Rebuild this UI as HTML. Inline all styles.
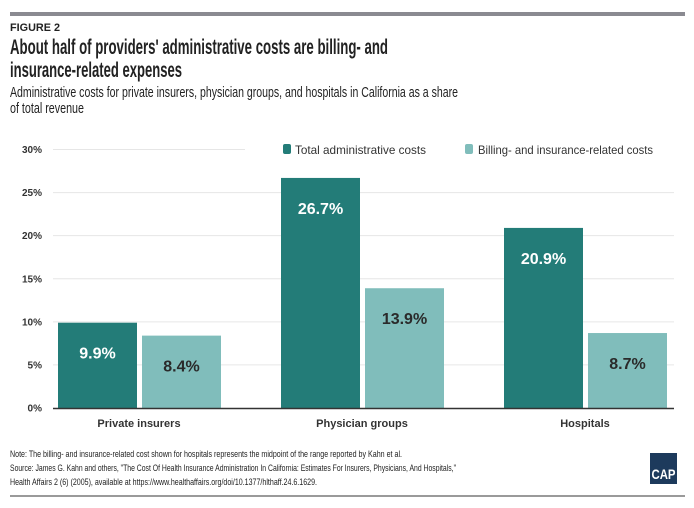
<!DOCTYPE html>
<html><head><meta charset="utf-8"><style>
body{margin:0;background:#fff}
svg{display:block;font-family:"Liberation Sans",sans-serif}
</style></head><body>
<svg width="694" height="508" viewBox="0 0 694 508">
<rect x="10" y="12" width="675" height="4" fill="#8a8a91"/>
<text x="10" y="31" font-size="11" font-weight="bold" fill="#222" textLength="50" lengthAdjust="spacingAndGlyphs">FIGURE 2</text>
<text x="10" y="54" font-size="21" font-weight="bold" fill="#222" textLength="378" lengthAdjust="spacingAndGlyphs">About half of providers' administrative costs are billing- and</text>
<text x="10" y="77" font-size="21" font-weight="bold" fill="#222" textLength="172" lengthAdjust="spacingAndGlyphs">insurance-related expenses</text>
<text x="10" y="97" font-size="15" fill="#222" textLength="448" lengthAdjust="spacingAndGlyphs">Administrative costs for private insurers, physician groups, and hospitals in California as a share</text>
<text x="10" y="113" font-size="15" fill="#222" textLength="74" lengthAdjust="spacingAndGlyphs">of total revenue</text>
<g id="grid"></g>
<g id="bars"></g>
<line x1="53" x2="674" y1="408.5" y2="408.5" stroke="#333" stroke-width="1.5"/>
<g>
<rect x="283" y="144" width="8" height="10" rx="2" fill="#237c78"/>
<text x="295" y="154" font-size="12" fill="#333" textLength="131" lengthAdjust="spacingAndGlyphs">Total administrative costs</text>
<rect x="465" y="144" width="8" height="10" rx="2" fill="#80bdbb"/>
<text x="478" y="154" font-size="12" fill="#333" textLength="175" lengthAdjust="spacingAndGlyphs">Billing- and insurance-related costs</text>
</g>
<g font-size="9.5" fill="#222">
<text x="10" y="457" textLength="392" lengthAdjust="spacingAndGlyphs">Note: The billing- and insurance-related cost shown for hospitals represents the midpoint of the range reported by Kahn et al.</text>
<text x="10" y="471" textLength="446" lengthAdjust="spacingAndGlyphs">Source: James G. Kahn and others, "The Cost Of Health Insurance Administration In California: Estimates For Insurers, Physicians, And Hospitals,"</text>
<text x="10" y="485" textLength="307" lengthAdjust="spacingAndGlyphs">Health Affairs 2 (6) (2005), available at https://www.healthaffairs.org/doi/10.1377/hlthaff.24.6.1629.</text>
</g>
<g>
<rect x="650" y="453" width="27" height="31" fill="#1d3a5c"/>
<text x="663.5" y="479" font-size="14" font-weight="bold" fill="#fff" text-anchor="middle" textLength="24" lengthAdjust="spacingAndGlyphs">CAP</text>
</g>
<rect x="10" y="495" width="675" height="2" fill="#9a9a9a"/>
</svg>
<script>
const categories=["Private insurers","Physician groups","Hospitals"];
const totalCosts=[9.9,26.7,20.9];
const billingCosts=[8.4,13.9,8.7];
const tickValues=[0,5,10,15,20,25,30];
const tickLabels=["0%","5%","10%","15%","20%","25%","30%"];
const NS="http://www.w3.org/2000/svg";
const y=v=>408-v*(258.5/30);
const groupX=i=>58+i*223;
function mk(tag,attrs,parent){const e=document.createElementNS(NS,tag);for(const k in attrs)e.setAttribute(k,attrs[k]);parent.appendChild(e);return e;}
const grid=document.getElementById('grid'),bars=document.getElementById('bars');
tickValues.forEach((v,i)=>{
  if(v>0){const l=mk('line',{x1:53,x2:v===30?245:674,y1:y(v),y2:y(v),stroke:'#e6e6e6','stroke-width':1},grid);
  
  }
  const t=mk('text',{x:42,y:y(v)+3.5,'font-size':10,'font-weight':'bold',fill:'#333','text-anchor':'end'},grid);
  t.textContent=tickLabels[i];
  
  
});
categories.forEach((c,i)=>{
  const gx=groupX(i);
  [[totalCosts[i],'#237c78','#fff',0,'bar-total'],[billingCosts[i],'#80bdbb','#2a2a2a',84,'bar-billing']].forEach(([v,col,tc,off,nm])=>{
    const r=mk('rect',{x:gx+off,y:y(v),width:79,height:408-y(v),fill:col},bars);
    
    
    const t=mk('text',{x:gx+off+39.5,y:y(v)+36,'font-size':16,'font-weight':'bold',fill:tc,'text-anchor':'middle'},bars);
    t.textContent=v.toFixed(1)+'%';
    
    
  });
  const t=mk('text',{x:gx+81,y:427,'font-size':11,'font-weight':'bold',fill:'#333','text-anchor':'middle'},bars);
  t.textContent=c;
  
  
});
</script>
</body></html>
